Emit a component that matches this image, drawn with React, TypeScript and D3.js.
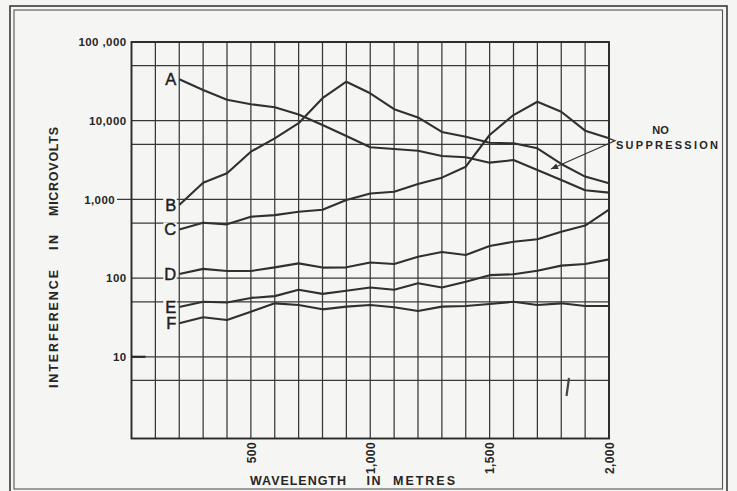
import React from "react";
import * as d3 from "d3";

const wavelengths = [200, 300, 400, 500, 600, 700, 800, 900, 1000, 1100, 1200, 1300, 1400, 1500, 1600, 1700, 1800, 1900, 2000];
const seriesA = [33600, 24500, 18500, 16200, 14800, 12000, 8800, 6400, 4600, 4360, 4160, 3560, 3430, 2930, 3160, 2360, 1760, 1310, 1220];
const seriesB = [850, 1630, 2150, 4040, 5970, 9300, 19300, 31300, 22300, 14000, 11000, 7200, 6270, 5250, 5160, 4460, 2820, 1950, 1600];
const seriesC = [415, 505, 482, 603, 631, 698, 740, 983, 1190, 1250, 1570, 1890, 2600, 6580, 11800, 17400, 13000, 7470, 5970];
const seriesD = [113, 131, 123, 123, 137, 154, 136, 137, 158, 151, 187, 215, 197, 256, 290, 311, 389, 465, 740];
const seriesE = [43, 50, 49, 56, 59, 71, 63, 69, 76, 71, 86, 76, 90, 109, 112, 124, 144, 151, 173];
const seriesF = [26.7, 31.8, 29.4, 37.4, 47.8, 45.5, 40.1, 43.4, 45.5, 42.6, 38.2, 43.4, 44.3, 46.9, 50, 45.5, 47.8, 44.3, 44.3];
const seriesNames = ["A", "B", "C", "D", "E", "F"];
const seriesValues = [seriesA, seriesB, seriesC, seriesD, seriesE, seriesF];

const yTickValues = [100000, 10000, 1000, 100, 10];
const yTickLabels = ["100 ,000", "10,000", "1,000", "100", "10"];
const yGridValues = [100000, 50000, 10000, 5000, 1000, 500, 100, 50, 10, 5];
const xGridValues = d3.range(100, 2001, 100);
const xTickValues = [500, 1000, 1500, 2000];
const xTickLabels = ["500", "1,000", "1,500", "2,000"];
const annotationLines = ["NO", "SUPPRESSION"];
const arrowTip = { x: 1757, y: 2430 };

const W = 737;
const H = 491;
const plot = { left: 131.5, right: 609, top: 42, bottom: 438.5 };
const BG = "#f5f5f3";
const INK = "#262626";
const FONT = "'Liberation Sans', Arial, Helvetica, sans-serif";

export default function App() {
  const x = d3.scaleLinear().domain([0, 2000]).range([plot.left, plot.right]);
  const y = d3.scaleLog().domain([0.916, 100000]).range([plot.bottom, plot.top]);
  const line = d3
    .line<number>()
    .x((_, i) => x(wavelengths[i]))
    .y((d) => y(d));

  const cEnd = { x: x(2000), y: y(seriesC[seriesC.length - 1]) };
  const vertex = { x: x(2000) + 6, y: cEnd.y + 2.5 };
  const tip = { x: x(arrowTip.x), y: y(arrowTip.y) };
  const ang = Math.atan2(tip.y - vertex.y, tip.x - vertex.x);
  const ah = 7;
  const aw = 3;
  const head = [
    [tip.x, tip.y],
    [tip.x - ah * Math.cos(ang) + aw * Math.sin(ang), tip.y - ah * Math.sin(ang) - aw * Math.cos(ang)],
    [tip.x - ah * Math.cos(ang) - aw * Math.sin(ang), tip.y - ah * Math.sin(ang) + aw * Math.cos(ang)],
  ];

  return (
    <svg
      width={W}
      height={H}
      style={{ position: "absolute", left: 0, top: 0, background: BG }}
      fontFamily={FONT}
    >
      <rect x={0} y={0} width={W} height={H} fill={BG} />
      {/* double border */}
      <rect x={10} y={6} width={717} height={495} fill="none" stroke="#3a3a3a" strokeWidth={1.6} />
      <rect x={14} y={10} width={708.5} height={479} fill="none" stroke="#555" strokeWidth={1.1} />

      {/* grid */}
      {yGridValues.map((v) => (
        <line key={"hy" + v} x1={plot.left} x2={plot.right} y1={y(v)} y2={y(v)} stroke="#383838" strokeWidth={1.25} />
      ))}
      {xGridValues.map((v) => (
        <line key={"vx" + v} x1={x(v)} x2={x(v)} y1={plot.top} y2={plot.bottom} stroke="#383838" strokeWidth={1.25} />
      ))}
      <rect
        x={plot.left}
        y={plot.top}
        width={plot.right - plot.left}
        height={plot.bottom - plot.top}
        fill="none"
        stroke="#2a2a2a"
        strokeWidth={1.9}
      />
      <line x1={117} x2={plot.left} y1={y(1000)} y2={y(1000)} stroke="#383838" strokeWidth={1.25} />
      <line x1={plot.left} x2={plot.left + 14} y1={y(10)} y2={y(10)} stroke="#2a2a2a" strokeWidth={2.2} />

      {/* y tick labels */}
      {yTickValues.map((v, i) => (
        <text
          key={"yt" + v}
          x={v === 1000 ? 115 : 126.5}
          y={y(v)}
          dy="0.36em"
          textAnchor="end"
          fontSize={11.5}
          fontWeight="bold"
          letterSpacing={0.4}
          fill={INK}
        >
          {yTickLabels[i]}
        </text>
      ))}

      {/* x tick labels */}
      {xTickValues.map((v, i) => (
        <text
          key={"xt" + v}
          transform={`translate(${x(v) + 0.5},442) rotate(-90)`}
          dy="0.36em"
          textAnchor="end"
          fontSize={12}
          fontWeight="bold"
          letterSpacing={0.4}
          fill={INK}
        >
          {xTickLabels[i]}
        </text>
      ))}

      {/* series */}
      {seriesValues.map((vals, i) => (
        <path key={"s" + i} d={line(vals) || ""} fill="none" stroke="#303030" strokeWidth={2.1} strokeLinejoin="round" />
      ))}

      {/* series letters */}
      {seriesValues.map((vals, i) => (
        <g key={"l" + i}>
          <rect x={x(wavelengths[0]) - 16} y={y(vals[0]) - 7} width={13.5} height={14} fill={BG} />
          <text
            x={x(wavelengths[0]) - 3}
            y={y(vals[0])}
            dy="0.36em"
            textAnchor="end"
            fontSize={16.5}
            fill="#1e1e1e"
            stroke="#1e1e1e"
            strokeWidth={0.45}
          >
            {seriesNames[i]}
          </text>
        </g>
      ))}

      {/* annotation */}
      <polyline
        points={`${cEnd.x},${cEnd.y} ${vertex.x},${vertex.y} ${tip.x},${tip.y}`}
        fill="none"
        stroke="#333"
        strokeWidth={1.2}
      />
      <polygon points={head.map((p) => p.join(",")).join(" ")} fill="#333" />
      <text x={660.5} y={130} dy="0.36em" textAnchor="middle" fontSize={11} fontWeight="bold" fill={INK}>
        {annotationLines[0]}
      </text>
      <text
        x={616}
        y={145.5}
        dy="0.36em"
        fontSize={11}
        fontWeight="bold"
        fill={INK}
        textLength={102}
        lengthAdjust="spacing"
      >
        {annotationLines[1]}
      </text>

      {/* axis titles */}
      <g fontSize={12.5} fontWeight="bold" fill={INK}>
        <text x={250} y={480} dy="0.36em" textLength={96} lengthAdjust="spacing">WAVELENGTH</text>
        <text x={366.5} y={480} dy="0.36em" textLength={14} lengthAdjust="spacing">IN</text>
        <text x={393} y={480} dy="0.36em" textLength={62} lengthAdjust="spacing">METRES</text>
        <text transform="translate(53,388) rotate(-90)" dy="0.36em" textLength={118} lengthAdjust="spacing">INTERFERENCE</text>
        <text transform="translate(53,250) rotate(-90)" dy="0.36em" textLength={15} lengthAdjust="spacing">IN</text>
        <text transform="translate(53,216) rotate(-90)" dy="0.36em" textLength={89} lengthAdjust="spacing">MICROVOLTS</text>
      </g>

      {/* stray pen mark */}
      <line x1={569} y1={378} x2={566.5} y2={396} stroke="#444" strokeWidth={2.2} />
    </svg>
  );
}
